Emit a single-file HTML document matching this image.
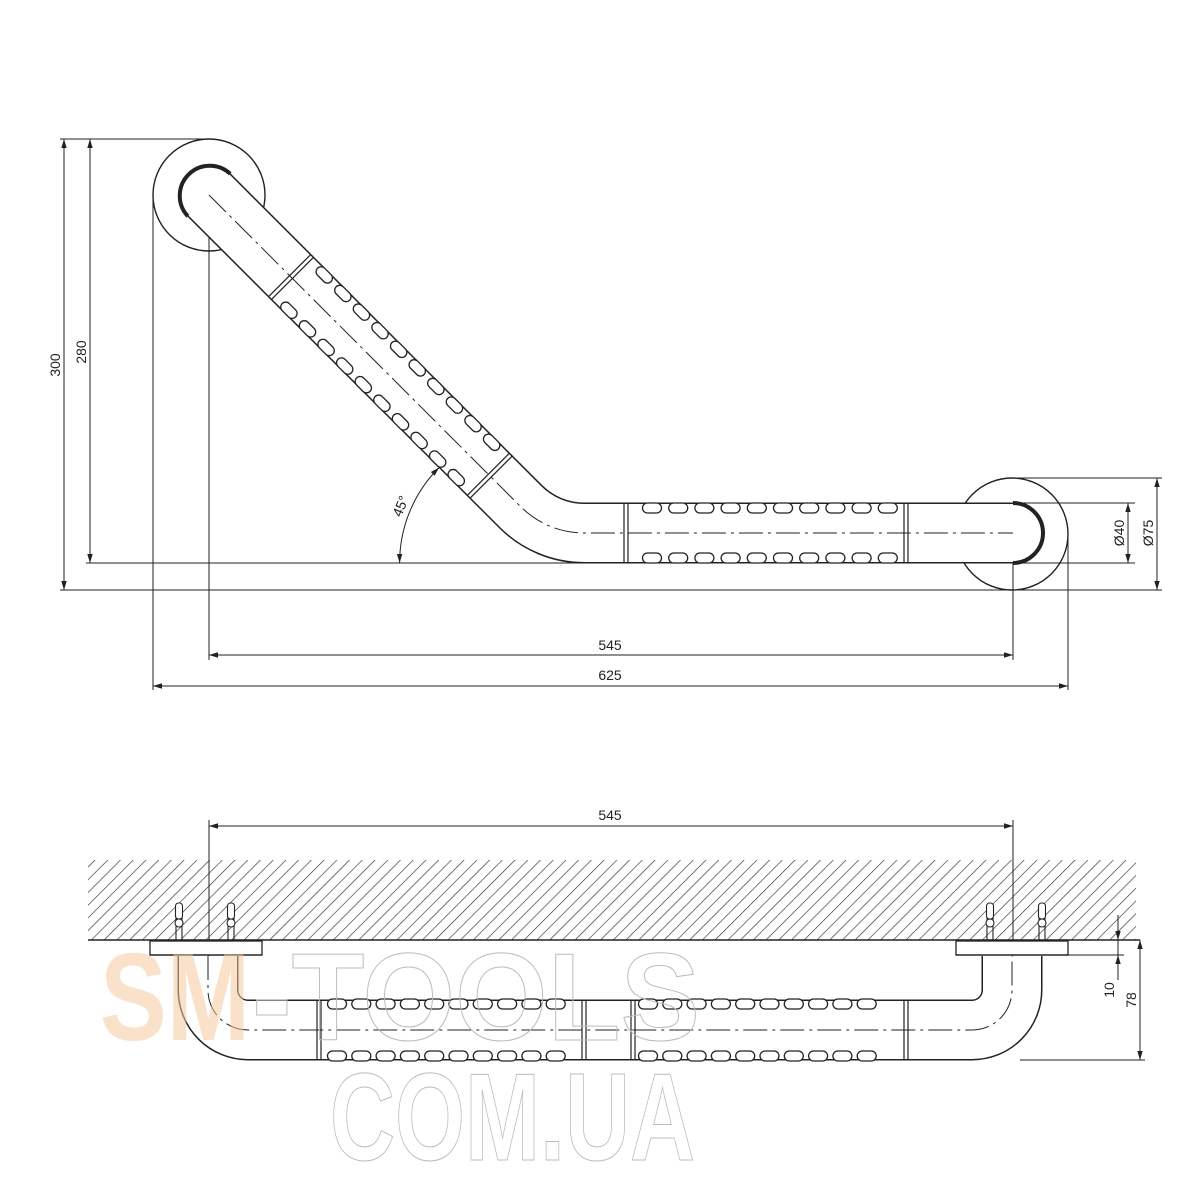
<!DOCTYPE html>
<html><head><meta charset="utf-8"><style>html,body{margin:0;padding:0;background:#fff}svg{display:block}</style></head>
<body>
<svg width="1200" height="1200" viewBox="0 0 1200 1200" xmlns="http://www.w3.org/2000/svg" font-family="Liberation Sans, sans-serif">
<defs>
<marker id="a" viewBox="0 0 10 10" refX="10" refY="5" markerWidth="9" markerHeight="9" orient="auto-start-reverse" markerUnits="userSpaceOnUse"><path d="M0,2 L10,5 L0,8 z" fill="#222"/></marker>
<pattern id="h" width="9" height="9" patternUnits="userSpaceOnUse" patternTransform="rotate(45)"><line x1="0" y1="0" x2="0" y2="9" stroke="#222" stroke-width="1.2"/></pattern>
<rect id="b" x="-9.5" y="-5" width="19" height="10" rx="5" fill="#fff" stroke="#222" stroke-width="1.3"/>
</defs>
<g stroke="#222" stroke-width="1" fill="none">
<line x1="60" y1="139" x2="210" y2="139"/>
<line x1="60" y1="590" x2="1162" y2="590"/>
<line x1="86" y1="563" x2="1013" y2="563"/>
<line x1="64" y1="139" x2="64" y2="590" marker-start="url(#a)" marker-end="url(#a)"/>
<line x1="90" y1="139" x2="90" y2="563" marker-start="url(#a)" marker-end="url(#a)"/>
<line x1="153" y1="195" x2="153" y2="690"/>
<line x1="209" y1="195" x2="209" y2="660"/>
<line x1="1013" y1="533" x2="1013" y2="660"/>
<line x1="1068" y1="534" x2="1068" y2="690"/>
<line x1="209" y1="655" x2="1013" y2="655" marker-start="url(#a)" marker-end="url(#a)"/>
<line x1="153" y1="686" x2="1068" y2="686" marker-start="url(#a)" marker-end="url(#a)"/>
<line x1="1013" y1="503" x2="1135" y2="503"/>
<line x1="1013" y1="563" x2="1135" y2="563"/>
<line x1="1012" y1="478" x2="1162" y2="478"/>
<line x1="1128" y1="503" x2="1128" y2="563" marker-start="url(#a)" marker-end="url(#a)"/>
<line x1="1157" y1="478" x2="1157" y2="590" marker-start="url(#a)" marker-end="url(#a)"/>
<path d="M399.6,563 A135,135 0 0 1 439.1,467.5" marker-start="url(#a)" marker-end="url(#a)"/>
<circle cx="209" cy="195" r="56" stroke-width="1.4"/>
<circle cx="1012" cy="534" r="56" stroke-width="1.4"/>
</g>
<path d="M209,195 L520.6,506.6 A90,90 0 0 0 584.3,533 L1013,533" fill="none" stroke="#222" stroke-width="61" stroke-linecap="round"/>
<path d="M209,195 L520.6,506.6 A90,90 0 0 0 584.3,533 L1013,533" fill="none" stroke="#fff" stroke-width="58" stroke-linecap="round"/>
<path d="M187.8,216.2 A30,30 0 0 1 230.2,173.8" fill="none" stroke="#222" stroke-width="4"/>
<path d="M1013,503 A30,30 0 0 1 1013,563" fill="none" stroke="#222" stroke-width="4"/>
<path d="M209,195 L520.6,506.6 A90,90 0 0 0 584.3,533 L1013,533" fill="none" stroke="#222" stroke-width="1" stroke-dasharray="24,5,3,5"/>
<g transform="translate(209,195) rotate(45)" stroke="#222" stroke-width="1.2">
<line x1="114" y1="-30" x2="114" y2="30"/><line x1="118" y1="-30" x2="118" y2="30"/>
<line x1="395" y1="-30" x2="395" y2="30"/><line x1="399" y1="-30" x2="399" y2="30"/>
<use href="#b" x="138" y="-25"/><use href="#b" x="164.3" y="-25"/><use href="#b" x="190.6" y="-25"/><use href="#b" x="216.9" y="-25"/><use href="#b" x="243.2" y="-25"/><use href="#b" x="269.5" y="-25"/><use href="#b" x="295.8" y="-25"/><use href="#b" x="322.1" y="-25"/><use href="#b" x="348.4" y="-25"/><use href="#b" x="374.7" y="-25"/>
<use href="#b" x="138" y="25"/><use href="#b" x="164.3" y="25"/><use href="#b" x="190.6" y="25"/><use href="#b" x="216.9" y="25"/><use href="#b" x="243.2" y="25"/><use href="#b" x="269.5" y="25"/><use href="#b" x="295.8" y="25"/><use href="#b" x="322.1" y="25"/><use href="#b" x="348.4" y="25"/><use href="#b" x="374.7" y="25"/>
</g>
<g stroke="#222" stroke-width="1.2">
<line x1="624" y1="503" x2="624" y2="563"/><line x1="628" y1="503" x2="628" y2="563"/>
<line x1="904" y1="503" x2="904" y2="563"/><line x1="908" y1="503" x2="908" y2="563"/>
</g>
<g>
<use href="#b" x="652" y="508"/><use href="#b" x="678.2" y="508"/><use href="#b" x="704.4" y="508"/><use href="#b" x="730.6" y="508"/><use href="#b" x="756.8" y="508"/><use href="#b" x="783" y="508"/><use href="#b" x="809.2" y="508"/><use href="#b" x="835.4" y="508"/><use href="#b" x="861.6" y="508"/><use href="#b" x="887.8" y="508"/>
<use href="#b" x="652" y="558"/><use href="#b" x="678.2" y="558"/><use href="#b" x="704.4" y="558"/><use href="#b" x="730.6" y="558"/><use href="#b" x="756.8" y="558"/><use href="#b" x="783" y="558"/><use href="#b" x="809.2" y="558"/><use href="#b" x="835.4" y="558"/><use href="#b" x="861.6" y="558"/><use href="#b" x="887.8" y="558"/>
</g>
<g font-size="14" fill="#222" text-anchor="middle">
<text x="610" y="650">545</text>
<text x="610" y="680">625</text>
<text transform="translate(60,365) rotate(-90)">300</text>
<text transform="translate(86,352) rotate(-90)">280</text>
<text transform="translate(1124,533) rotate(-90)">Ø40</text>
<text transform="translate(1153,533) rotate(-90)">Ø75</text>
<text transform="translate(405,508) rotate(-68)">45°</text>
<text x="610" y="820">545</text>
<text transform="translate(1114,990) rotate(-90)">10</text>
<text transform="translate(1136,1000) rotate(-90)">78</text>
</g>
<rect x="88" y="860" width="1048" height="80" fill="url(#h)"/>
<g stroke="#222" stroke-width="1" fill="none">
<line x1="88" y1="940" x2="1140" y2="940" stroke-width="1.4"/>
<line x1="209" y1="820" x2="209" y2="1030"/>
<line x1="1013" y1="820" x2="1013" y2="1030"/>
<line x1="209" y1="826" x2="1013" y2="826" marker-start="url(#a)" marker-end="url(#a)"/>
<line x1="1068" y1="955" x2="1124" y2="955"/>
<line x1="1020" y1="1060" x2="1145" y2="1060"/>
<line x1="1118" y1="915" x2="1118" y2="940" marker-end="url(#a)"/>
<line x1="1118" y1="980" x2="1118" y2="955" marker-end="url(#a)"/>
<line x1="1118" y1="940" x2="1118" y2="955"/>
<line x1="1140" y1="940" x2="1140" y2="1060" marker-start="url(#a)" marker-end="url(#a)"/>
</g>
<g fill="#fff" stroke="#222" stroke-width="1.3">
<rect x="150" y="941" width="112" height="14"/>
<rect x="956" y="941" width="112" height="14"/>
</g>
<g stroke="#222" stroke-width="1.1" fill="#fff">
<g transform="translate(179,0)"><line x1="-3" y1="915" x2="-3" y2="941"/><line x1="3" y1="915" x2="3" y2="941"/><rect x="-3.5" y="903" width="7" height="16" rx="3"/><circle cx="0" cy="923" r="4"/></g>
<g transform="translate(231,0)"><line x1="-3" y1="915" x2="-3" y2="941"/><line x1="3" y1="915" x2="3" y2="941"/><rect x="-3.5" y="903" width="7" height="16" rx="3"/><circle cx="0" cy="923" r="4"/></g>
<g transform="translate(990,0)"><line x1="-3" y1="915" x2="-3" y2="941"/><line x1="3" y1="915" x2="3" y2="941"/><rect x="-3.5" y="903" width="7" height="16" rx="3"/><circle cx="0" cy="923" r="4"/></g>
<g transform="translate(1042,0)"><line x1="-3" y1="915" x2="-3" y2="941"/><line x1="3" y1="915" x2="3" y2="941"/><rect x="-3.5" y="903" width="7" height="16" rx="3"/><circle cx="0" cy="923" r="4"/></g>
</g>
<path d="M208,956 L208,990 A40,40 0 0 0 248,1030 L972,1030 A40,40 0 0 0 1012,990 L1012,956" fill="none" stroke="#222" stroke-width="61"/>
<path d="M208,956 L208,990 A40,40 0 0 0 248,1030 L972,1030 A40,40 0 0 0 1012,990 L1012,956" fill="none" stroke="#fff" stroke-width="58"/>
<line x1="150" y1="955" x2="262" y2="955" stroke="#222" stroke-width="1.3"/>
<line x1="956" y1="955" x2="1068" y2="955" stroke="#222" stroke-width="1.3"/>
<path d="M208,956 L208,990 A40,40 0 0 0 248,1030 L972,1030 A40,40 0 0 0 1012,990 L1012,956" fill="none" stroke="#222" stroke-width="1" stroke-dasharray="24,5,3,5"/>
<g stroke="#222" stroke-width="1.2">
<line x1="317" y1="1000" x2="317" y2="1060"/><line x1="321" y1="1000" x2="321" y2="1060"/>
<line x1="582" y1="1000" x2="582" y2="1060"/><line x1="586" y1="1000" x2="586" y2="1060"/>
<line x1="631" y1="1000" x2="631" y2="1060"/><line x1="635" y1="1000" x2="635" y2="1060"/>
<line x1="904" y1="1000" x2="904" y2="1060"/><line x1="908" y1="1000" x2="908" y2="1060"/>
</g>
<g>
<use href="#b" x="337" y="1004"/><use href="#b" x="361.3" y="1004"/><use href="#b" x="385.6" y="1004"/><use href="#b" x="409.9" y="1004"/><use href="#b" x="434.2" y="1004"/><use href="#b" x="458.5" y="1004"/><use href="#b" x="482.8" y="1004"/><use href="#b" x="507.1" y="1004"/><use href="#b" x="531.4" y="1004"/><use href="#b" x="555.7" y="1004"/>
<use href="#b" x="337" y="1056"/><use href="#b" x="361.3" y="1056"/><use href="#b" x="385.6" y="1056"/><use href="#b" x="409.9" y="1056"/><use href="#b" x="434.2" y="1056"/><use href="#b" x="458.5" y="1056"/><use href="#b" x="482.8" y="1056"/><use href="#b" x="507.1" y="1056"/><use href="#b" x="531.4" y="1056"/><use href="#b" x="555.7" y="1056"/>
<use href="#b" x="648" y="1004"/><use href="#b" x="672.3" y="1004"/><use href="#b" x="696.6" y="1004"/><use href="#b" x="720.9" y="1004"/><use href="#b" x="745.2" y="1004"/><use href="#b" x="769.5" y="1004"/><use href="#b" x="793.8" y="1004"/><use href="#b" x="818.1" y="1004"/><use href="#b" x="842.4" y="1004"/><use href="#b" x="866.7" y="1004"/>
<use href="#b" x="648" y="1056"/><use href="#b" x="672.3" y="1056"/><use href="#b" x="696.6" y="1056"/><use href="#b" x="720.9" y="1056"/><use href="#b" x="745.2" y="1056"/><use href="#b" x="769.5" y="1056"/><use href="#b" x="793.8" y="1056"/><use href="#b" x="818.1" y="1056"/><use href="#b" x="842.4" y="1056"/><use href="#b" x="866.7" y="1056"/>
</g>
<g font-family="Liberation Sans, sans-serif" font-weight="bold" font-size="124">
<text x="100" y="1040" fill="#f5c99f" fill-opacity="0.55" textLength="150" lengthAdjust="spacingAndGlyphs">SM</text>
<text x="252" y="1040" fill="none" stroke="#bbb" stroke-width="1" textLength="448" lengthAdjust="spacingAndGlyphs">-TOOLS</text>
<text x="330" y="1160" fill="none" stroke="#bbb" stroke-width="1" textLength="365" lengthAdjust="spacingAndGlyphs">COM.UA</text>
</g>
</svg>
</body></html>
